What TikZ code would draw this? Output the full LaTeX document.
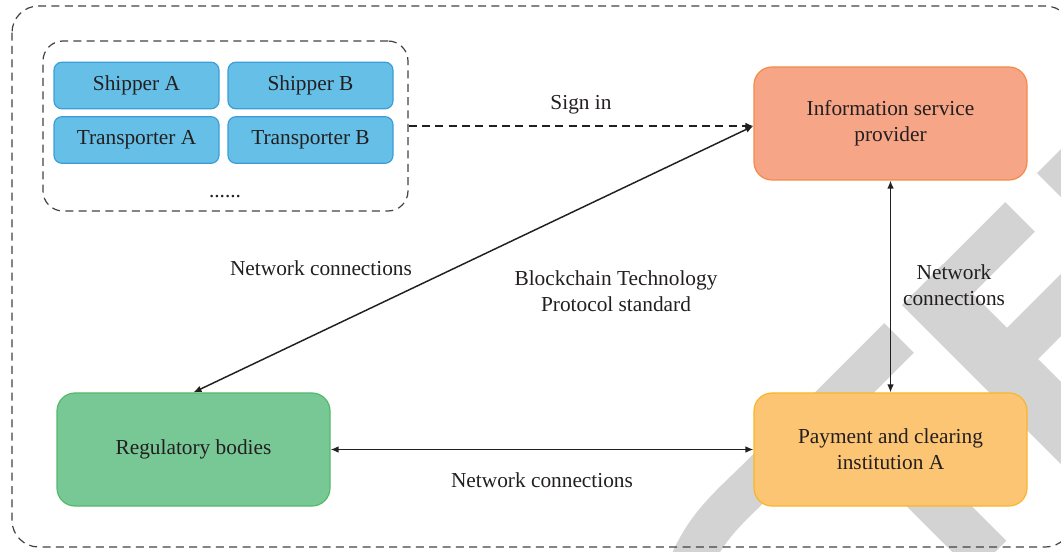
\documentclass[tikz,border=0pt]{standalone}
\usepackage{fontspec}
\setmainfont{Liberation Serif}
\usetikzlibrary{arrows.meta}
\definecolor{txt}{HTML}{231F20}
\definecolor{wm}{HTML}{D3D3D3}
\definecolor{bluef}{HTML}{66BFE6}
\definecolor{blued}{HTML}{3A9ED9}
\definecolor{salf}{HTML}{F6A587}
\definecolor{sald}{HTML}{F58A45}
\definecolor{yelf}{HTML}{FCC574}
\definecolor{yeld}{HTML}{FBB52A}
\definecolor{grnf}{HTML}{78C896}
\definecolor{grnd}{HTML}{55B96A}
\begin{document}
\begin{tikzpicture}[x=0.75pt,y=-0.75pt,
  font=\fontsize{16}{19.5}\selectfont, text=txt,
  wmband/.style={draw=wm, line cap=butt},
  smallbox/.style={draw=blued, fill=bluef, line width=0.9pt, rounded corners=6pt,
    minimum width=123.75pt, minimum height=35pt, inner sep=0pt, align=center},
  bigbox/.style={line width=0.9pt, rounded corners=13.5pt,
    minimum width=204.75pt, minimum height=84.75pt, inner sep=0pt, align=center},
  groupbox/.style={draw=txt!85, dashed, dash pattern=on 6pt off 4pt, line width=0.9pt,
    rounded corners=15pt, minimum width=273.75pt, minimum height=127.5pt, inner sep=0pt},
  lbl/.style={inner sep=0pt, align=center},
  conn/.style={draw=txt, line width=1.1pt},
  tipA/.tip={Latex[length=6pt,width=5pt]}
]
\useasboundingbox (0,0) rectangle (1061,552);
\begin{scope}
  \clip (0,0) rectangle (1061,552);
  % watermark
  \draw[wmband, line width=31.5pt] (684,580) .. controls (702,528) and (728,509) .. (760,477) -- (899,338);
  \draw[wmband, line width=31.5pt] (1020,217) -- (937,300);
  \draw[wmband, line width=43.5pt] (922.5,284.5) -- (1110,472);
  \draw[wmband, line width=33pt] (1002,364) -- (1130,236);
  \draw[wmband, line width=34.5pt] (835,402) -- (990,557);
  \draw[wmband, line width=33pt] (1052.5,157.5) -- (1150,255);
  % outer frame
  \draw[draw=txt!85, dashed, dash pattern=on 6pt off 4pt, line width=0.9pt, rounded corners=20pt]
    (12,6) rectangle (1072,547);
\end{scope}

\node[groupbox] (grp) at (225.5,126) {};
\node[smallbox] (sa) at (136.5,85.5) {Shipper A};
\node[smallbox] (sb) at (310.5,85.5) {Shipper B};
\node[smallbox] (ta) at (136.5,140) {Transporter A};
\node[smallbox] (tb) at (310.5,140) {Transporter B};
\node[lbl] (dots) at (225,197) {......};

\node[bigbox, fill=salf, draw=sald] (isp) at (890.5,123.5) {Information service\\provider};
\node[bigbox, fill=yelf, draw=yeld] (pay) at (890.5,449.5) {Payment and clearing\\institution A};
\node[bigbox, fill=grnf, draw=grnd] (reg) at (193.5,449.5) {Regulatory bodies};

\node[lbl] (signin) at (581,105) {Sign in};
\node[lbl] (nc1) at (321,268) {Network connections};
\node[lbl] (bc) at (616,291) {Blockchain Technology\\Protocol standard};
\node[lbl] (nc2) at (954,285) {Network\\connections};
\node[lbl] (nc3) at (542,480) {Network connections};

\coordinate (ispin) at (grp.east -| isp.west);
\draw[conn, dashed, dash pattern=on 6pt off 4pt, -tipA] (grp.east) -- (ispin);
\draw[conn, tipA-tipA] (ispin) -- (reg.north);
\draw[conn, tipA-tipA] (isp.south) -- (pay.north);
\draw[conn, tipA-tipA] (reg.east) -- (pay.west);
\end{tikzpicture}
\end{document}
